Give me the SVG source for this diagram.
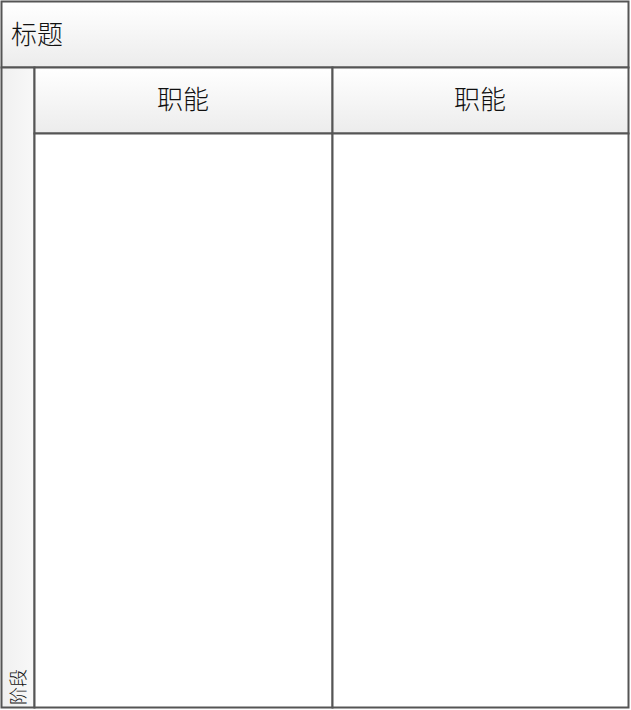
<svg xmlns="http://www.w3.org/2000/svg" width="631" height="710" viewBox="0 0 631 710">
<defs>
<linearGradient id="hg" x1="0" y1="0" x2="0" y2="1">
<stop offset="0" stop-color="#ffffff"/>
<stop offset="1" stop-color="#ececec"/>
</linearGradient>
<linearGradient id="vg" x1="0" y1="0" x2="1" y2="0">
<stop offset="0" stop-color="#f0f0f0"/>
<stop offset="1" stop-color="#f8f8f8"/>
</linearGradient>
<style>
.b{stroke:#555;stroke-width:2;}
.t{font-family:"Noto Sans CJK SC","Noto Sans",sans-serif;font-weight:300;fill:#111;}
</style>
</defs>
<rect x="0" y="0" width="631" height="710" fill="#fff"/>
<g id="title">
<rect class="b" x="1.5" y="1.5" width="627" height="66" fill="url(#hg)"/>
<text class="t" x="11" y="44" font-size="26">标题</text>
</g>
<g id="stage">
<rect class="b" x="1.5" y="67.5" width="33" height="640" fill="url(#vg)"/>
<text class="t" font-size="18" transform="translate(25,705) rotate(-90)">阶段</text>
</g>
<g id="col1">
<rect class="b" x="34.5" y="67.5" width="298" height="66" fill="url(#hg)"/>
<rect class="b" x="34.5" y="133.5" width="298" height="574" fill="#fff"/>
<text class="t" x="183" y="109" font-size="26" text-anchor="middle">职能</text>
</g>
<g id="col2">
<rect class="b" x="332.5" y="67.5" width="296" height="66" fill="url(#hg)"/>
<rect class="b" x="332.5" y="133.5" width="296" height="574" fill="#fff"/>
<text class="t" x="480" y="109" font-size="26" text-anchor="middle">职能</text>
</g>
<g id="connectors"/>
</svg>
